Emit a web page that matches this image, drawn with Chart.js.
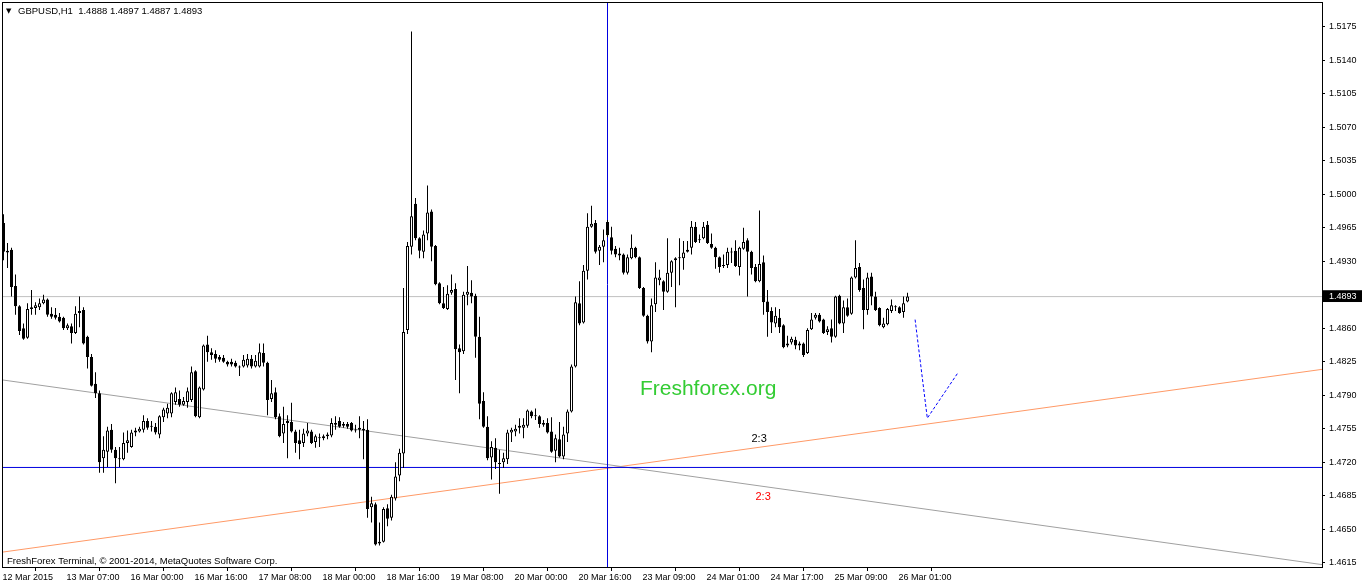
<!DOCTYPE html>
<html>
<head>
<meta charset="utf-8">
<script src="https://cdn.jsdelivr.net/npm/chart.js@4.4.0/dist/chart.umd.min.js"></script>
<style>
html,body{margin:0;padding:0;background:#fff;overflow:hidden}
#wrap{position:relative;width:1362px;height:586px;background:#fff}
canvas{display:block}
</style>
</head>
<body>
<div id="wrap"><canvas id="c" width="1362" height="586"></canvas></div>
<script>
const symbol = "GBPUSD,H1";
const opens = [
1.4970,1.4939,1.4942,1.4904,1.4883,1.4860,1.4850,1.4882,1.4881,1.4882,
1.4886,1.4890,1.4875,1.4874,1.4872,1.4871,1.4860,1.4862,1.4855,1.4876,
1.4879,1.4851,1.4830,1.4802,1.4792,1.4724,1.4731,1.4754,1.4733,1.4724,
1.4723,1.4740,1.4736,1.4751,1.4752,1.4754,1.4763,1.4758,1.4757,1.4749,
1.4767,1.4771,1.4771,1.4783,1.4786,1.4780,1.4783,1.4785,1.4815,1.4767,
1.4796,1.4843,1.4835,1.4833,1.4830,1.4829,1.4825,1.4825,1.4824,1.4820,
1.4820,1.4821,1.4828,1.4820,1.4820,1.4834,1.4824,1.4786,1.4793,1.4768,
1.4750,1.4761,1.4762,1.4752,1.4743,1.4740,1.4750,1.4752,1.4741,1.4745,
1.4745,1.4747,1.4748,1.4759,1.4763,1.4760,1.4760,1.4761,1.4754,1.4756,
1.4753,1.4754,1.4673,1.4676,1.4635,1.4637,1.4672,1.4662,1.4682,1.4706,
1.4729,1.4858,1.4945,1.4990,1.4954,1.4940,1.4959,1.4982,1.4946,1.4907,
1.4886,1.4880,1.4897,1.4901,1.4839,1.4836,1.4895,1.4897,1.4894,1.4851,
1.4784,1.4757,1.4725,1.4735,1.4719,1.4720,1.4723,1.4751,1.4752,1.4756,
1.4756,1.4758,1.4773,1.4769,1.4768,1.4761,1.4761,1.4752,1.4732,1.4744,
1.4726,1.4750,1.4773,1.4820,1.4886,1.4866,1.4920,1.4966,1.4970,1.4941,
1.4945,1.4971,1.4955,1.4943,1.4938,1.4937,1.4918,1.4933,1.4944,1.4934,
1.4902,1.4873,1.4846,1.4885,1.4910,1.4909,1.4898,1.4918,1.4931,1.4934,
1.4933,1.4940,1.4944,1.4966,1.4953,1.4954,1.4968,1.4948,1.4944,1.4934,
1.4926,1.4926,1.4939,1.4941,1.4924,1.4943,1.4952,1.4940,1.4924,1.4909,
1.4929,1.4888,1.4878,1.4865,1.4871,1.4863,1.4842,1.4845,1.4848,1.4844,
1.4844,1.4834,1.4859,1.4871,1.4874,1.4869,1.4856,1.4860,1.4851,1.4894,
1.4865,1.4882,1.4875,1.4913,1.4924,1.4902,1.4879,1.4914,1.4893,1.4881,
1.4861,1.4864,1.4878,1.4883,1.4882,1.4877,1.4888
];
const highs = [
1.4979,1.4949,1.4944,1.4916,1.4884,1.4865,1.4886,1.4900,1.4887,1.4891,
1.4895,1.4891,1.4882,1.4881,1.4876,1.4872,1.4865,1.4865,1.4883,1.4893,
1.4882,1.4852,1.4833,1.4814,1.4795,1.4747,1.4757,1.4760,1.4736,1.4736,
1.4751,1.4753,1.4754,1.4756,1.4757,1.4769,1.4766,1.4763,1.4761,1.4769,
1.4777,1.4781,1.4793,1.4798,1.4795,1.4788,1.4798,1.4820,1.4816,1.4799,
1.4843,1.4852,1.4839,1.4837,1.4832,1.4832,1.4826,1.4828,1.4826,1.4821,
1.4832,1.4833,1.4832,1.4832,1.4844,1.4844,1.4825,1.4806,1.4798,1.4771,
1.4778,1.4769,1.4782,1.4754,1.4754,1.4755,1.4761,1.4754,1.4749,1.4750,
1.4749,1.4751,1.4766,1.4768,1.4767,1.4762,1.4762,1.4762,1.4759,1.4768,
1.4763,1.4765,1.4684,1.4678,1.4657,1.4673,1.4676,1.4686,1.4720,1.4734,
1.4902,1.4950,1.5170,1.4996,1.4955,1.4962,1.5009,1.4984,1.4947,1.4908,
1.4903,1.4905,1.4916,1.4907,1.4843,1.4898,1.4925,1.4910,1.4896,1.4872,
1.4793,1.4768,1.4742,1.4745,1.4733,1.4730,1.4754,1.4756,1.4759,1.4766,
1.4766,1.4775,1.4774,1.4776,1.4769,1.4764,1.4766,1.4767,1.4749,1.4762,
1.4757,1.4775,1.4822,1.4893,1.4909,1.4926,1.4980,1.4988,1.4973,1.4947,
1.4963,1.4973,1.4966,1.4946,1.4944,1.4938,1.4937,1.4958,1.4945,1.4935,
1.4903,1.4874,1.4891,1.4929,1.4921,1.4910,1.4954,1.4931,1.4934,1.4954,
1.4951,1.4951,1.4972,1.4971,1.4958,1.4971,1.4972,1.4959,1.4945,1.4935,
1.4937,1.4944,1.4944,1.4952,1.4945,1.4965,1.4954,1.4941,1.4927,1.4983,
1.4936,1.4900,1.4882,1.4882,1.4880,1.4864,1.4852,1.4851,1.4851,1.4846,
1.4845,1.4860,1.4876,1.4876,1.4876,1.4870,1.4862,1.4869,1.4894,1.4895,
1.4889,1.4891,1.4914,1.4952,1.4928,1.4911,1.4918,1.4918,1.4898,1.4882,
1.4871,1.4881,1.4890,1.4884,1.4883,1.4893,1.4897
];
const lows = [
1.4931,1.4923,1.4893,1.4874,1.4853,1.4848,1.4849,1.4874,1.4874,1.4879,
1.4885,1.4872,1.4870,1.4869,1.4866,1.4858,1.4858,1.4844,1.4854,1.4861,
1.4843,1.4818,1.4799,1.4787,1.4709,1.4709,1.4715,1.4730,1.4698,1.4715,
1.4722,1.4730,1.4735,1.4747,1.4751,1.4751,1.4754,1.4752,1.4749,1.4745,
1.4762,1.4766,1.4767,1.4780,1.4778,1.4779,1.4777,1.4783,1.4767,1.4766,
1.4795,1.4825,1.4827,1.4824,1.4825,1.4824,1.4820,1.4820,1.4819,1.4810,
1.4819,1.4819,1.4818,1.4819,1.4819,1.4820,1.4769,1.4783,1.4765,1.4746,
1.4740,1.4724,1.4751,1.4730,1.4723,1.4736,1.4747,1.4739,1.4735,1.4736,
1.4743,1.4744,1.4746,1.4754,1.4756,1.4756,1.4755,1.4752,1.4751,1.4745,
1.4723,1.4662,1.4657,1.4633,1.4633,1.4636,1.4653,1.4659,1.4680,1.4700,
1.4714,1.4854,1.4937,1.4952,1.4933,1.4933,1.4952,1.4930,1.4905,1.4885,
1.4880,1.4879,1.4895,1.4806,1.4792,1.4833,1.4884,1.4886,1.4829,1.4765,
1.4756,1.4722,1.4702,1.4713,1.4687,1.4714,1.4718,1.4741,1.4747,1.4750,
1.4745,1.4756,1.4766,1.4764,1.4756,1.4757,1.4750,1.4730,1.4720,1.4725,
1.4723,1.4741,1.4772,1.4819,1.4863,1.4865,1.4911,1.4965,1.4938,1.4926,
1.4929,1.4955,1.4937,1.4934,1.4931,1.4916,1.4916,1.4932,1.4933,1.4901,
1.4872,1.4844,1.4835,1.4877,1.4905,1.4879,1.4897,1.4903,1.4882,1.4905,
1.4921,1.4939,1.4937,1.4949,1.4949,1.4953,1.4948,1.4943,1.4922,1.4918,
1.4923,1.4923,1.4928,1.4924,1.4915,1.4942,1.4893,1.4916,1.4908,1.4908,
1.4874,1.4851,1.4855,1.4861,1.4855,1.4839,1.4840,1.4843,1.4838,1.4837,
1.4830,1.4833,1.4858,1.4869,1.4866,1.4854,1.4853,1.4845,1.4850,1.4864,
1.4855,1.4872,1.4874,1.4912,1.4898,1.4859,1.4874,1.4884,1.4878,1.4862,
1.4860,1.4863,1.4876,1.4878,1.4875,1.4871,1.4887
];
const closes = [
1.4940,1.4941,1.4903,1.4883,1.4857,1.4849,1.4880,1.4880,1.4884,1.4886,
1.4890,1.4874,1.4872,1.4871,1.4867,1.4860,1.4863,1.4855,1.4875,1.4878,
1.4844,1.4830,1.4800,1.4792,1.4720,1.4733,1.4753,1.4733,1.4724,1.4723,
1.4740,1.4743,1.4751,1.4753,1.4755,1.4763,1.4756,1.4757,1.4751,1.4768,
1.4775,1.4777,1.4792,1.4793,1.4780,1.4784,1.4794,1.4814,1.4768,1.4798,
1.4842,1.4835,1.4832,1.4828,1.4827,1.4825,1.4822,1.4822,1.4820,1.4819,
1.4827,1.4828,1.4820,1.4826,1.4835,1.4824,1.4785,1.4792,1.4767,1.4747,
1.4760,1.4763,1.4752,1.4740,1.4739,1.4750,1.4753,1.4740,1.4747,1.4746,
1.4747,1.4749,1.4761,1.4761,1.4757,1.4758,1.4757,1.4753,1.4753,1.4754,
1.4755,1.4671,1.4677,1.4634,1.4637,1.4671,1.4661,1.4684,1.4705,1.4730,
1.4856,1.4946,1.4977,1.4954,1.4941,1.4958,1.4981,1.4945,1.4906,1.4886,
1.4881,1.4896,1.4900,1.4838,1.4835,1.4895,1.4898,1.4893,1.4851,1.4781,
1.4757,1.4724,1.4736,1.4720,1.4718,1.4724,1.4751,1.4754,1.4755,1.4758,
1.4759,1.4774,1.4768,1.4768,1.4760,1.4759,1.4751,1.4731,1.4745,1.4726,
1.4749,1.4773,1.4820,1.4887,1.4865,1.4920,1.4966,1.4969,1.4940,1.4945,
1.4952,1.4957,1.4941,1.4937,1.4936,1.4918,1.4934,1.4944,1.4934,1.4902,
1.4873,1.4846,1.4884,1.4913,1.4913,1.4898,1.4918,1.4930,1.4933,1.4933,
1.4939,1.4942,1.4966,1.4950,1.4952,1.4966,1.4949,1.4944,1.4934,1.4924,
1.4925,1.4940,1.4940,1.4925,1.4944,1.4950,1.4940,1.4923,1.4909,1.4927,
1.4887,1.4877,1.4866,1.4873,1.4861,1.4840,1.4844,1.4849,1.4842,1.4842,
1.4832,1.4858,1.4869,1.4874,1.4867,1.4855,1.4859,1.4851,1.4893,1.4865,
1.4882,1.4873,1.4913,1.4923,1.4900,1.4879,1.4913,1.4893,1.4879,1.4863,
1.4865,1.4880,1.4884,1.4882,1.4876,1.4886,1.4893
];
const xTickIndex = [0,16,32,48,64,80,96,112,128,144,160,176,192,208,224];
const xTickLabels = ["12 Mar 2015","13 Mar 07:00","16 Mar 00:00","16 Mar 16:00","17 Mar 08:00","18 Mar 00:00","18 Mar 16:00","19 Mar 08:00","20 Mar 00:00","20 Mar 16:00","23 Mar 09:00","24 Mar 01:00","24 Mar 17:00","25 Mar 09:00","26 Mar 01:00"];
const yTickValues = [1.4615,1.4650,1.4685,1.4720,1.4755,1.4790,1.4825,1.4860,1.4930,1.4965,1.5000,1.5035,1.5070,1.5105,1.5140,1.5175];
const grayTrend = [[-0.375,1.4806],[329.625,1.4613]];
const orangeTrend = [[-0.375,1.4626],[329.625,1.4817]];
const blueLevel = 1.47145;
const blueTimeIndex = 151;
const forecastPath = [[227.9,1.4869],[230.95,1.4766],[238.7,1.4814]];
const xMin = -0.375, xMax = 329.625, yMin = 1.461051, yMax = 1.520081;

const last = closes.length - 1;
const lastClose = closes[last];
const FONT = "'Liberation Sans', Arial, sans-serif";

const wicks = lows.map((l, i) => ({x: i, y: [l, highs[i]]}));
const bodies = opens.map((o, i) => ({x: i, y: [o, closes[i]]}));
const toPts = arr => arr.map(p => ({x: p[0], y: p[1]}));

const lineDs = (data, color, order, dash) => ({
  type: 'line', data, borderColor: color, borderWidth: 1, pointRadius: 0,
  borderDash: dash || [], tension: 0, fill: false, order
});

const overlay = {
  id: 'overlay',
  afterDraw(chart) {
    const {ctx, chartArea: a, scales: {x, y}} = chart;
    ctx.save();
    ctx.strokeStyle = '#000'; ctx.lineWidth = 1;
    ctx.strokeRect(a.left + 0.5, a.top + 0.5, a.right - a.left, a.bottom - a.top);
    ctx.fillStyle = '#000';
    ctx.textBaseline = 'middle'; ctx.textAlign = 'left';
    ctx.font = "7px 'DejaVu Sans', sans-serif";
    ctx.fillText('\u25BC', 6, 11);
    ctx.font = '9.5px ' + FONT;
    const vals = [opens[last], highs[last], lows[last], closes[last]].map(v => v.toFixed(4)).join(' ');
    ctx.fillText(symbol + '  ' + vals, 18, 11);
    ctx.fillText('FreshForex Terminal, \u00A9 2001-2014, MetaQuotes Software Corp.', 7, 561);
    ctx.textBaseline = 'alphabetic';
    ctx.font = '21px ' + FONT;
    ctx.fillStyle = '#33cc33';
    ctx.fillText('Freshforex.org', x.getPixelForValue(159.1), y.getPixelForValue(1.4790));
    ctx.font = '11px ' + FONT;
    ctx.textAlign = 'center';
    ctx.fillStyle = '#000';
    ctx.fillText('2:3', x.getPixelForValue(188.9), y.getPixelForValue(1.4741));
    ctx.fillStyle = '#ff0000';
    ctx.fillText('2:3', x.getPixelForValue(189.9), y.getPixelForValue(1.4680));
    ctx.restore();
  }
};

const zeroPad = s => { s.paddingTop = 0; s.paddingBottom = 0; s.paddingLeft = 0; s.paddingRight = 0; };

new Chart(document.getElementById('c'), {
  type: 'bar',
  data: {
    datasets: [
      {label: 'bodies', data: bodies, barThickness: 3, grouped: false, order: 0,
       backgroundColor: c => (c.raw && c.raw.y[1] >= c.raw.y[0]) ? '#ffffff' : '#000000',
       borderColor: '#000', borderWidth: 1, borderSkipped: false, minBarLength: 1, inflateAmount: 0},
      {label: 'wicks', data: wicks, barThickness: 1, grouped: false, order: 1,
       backgroundColor: '#000', borderWidth: 0, inflateAmount: 0},
      lineDs([{x: xMin, y: lastClose}, {x: xMax, y: lastClose}], '#c0c0c0', 5),
      lineDs(toPts(grayTrend), '#a0a0a0', 4),
      lineDs(toPts(orangeTrend), '#ff9966', 4),
      lineDs([{x: xMin, y: blueLevel}, {x: xMax, y: blueLevel}], '#0000e0', 3),
      lineDs([{x: blueTimeIndex, y: yMin}, {x: blueTimeIndex, y: yMax}], '#0000e0', 3),
      lineDs(toPts(forecastPath), '#0000ff', 2, [3, 2])
    ]
  },
  options: {
    responsive: false, animation: false, devicePixelRatio: 1,
    layout: {padding: {left: 2, top: 2, right: 0, bottom: 0}},
    plugins: {legend: {display: false}, tooltip: {enabled: false}, title: {display: false}},
    scales: {
      x: {
        type: 'linear', min: xMin, max: xMax, offset: false, position: 'bottom',
        grid: {drawOnChartArea: false, drawTicks: true, tickLength: 4, tickColor: '#000', color: '#000'},
        border: {display: false},
        ticks: {autoSkip: false, maxRotation: 0, minRotation: 0, align: 'start', labelOffset: -1, padding: 1,
                color: '#000', font: {family: FONT, size: 9},
                callback: (v, i) => xTickLabels[i]},
        afterBuildTicks: s => { s.ticks = xTickIndex.map(v => ({value: v})); },
        afterFit: s => { s.height = 19; zeroPad(s); }
      },
      y: {
        type: 'linear', position: 'right', min: yMin, max: yMax,
        grid: {drawOnChartArea: false, drawTicks: true, tickLength: 3, tickColor: '#000', color: '#000'},
        border: {display: false},
        ticks: {autoSkip: false, padding: 4, crossAlign: 'near', font: {family: FONT, size: 9},
                color: c => (c.tick && c.tick.value === lastClose) ? '#ffffff' : '#000000',
                showLabelBackdrop: c => !!(c.tick && c.tick.value === lastClose),
                backdropColor: '#000', backdropPadding: {left: 6, right: 10, top: 1, bottom: 0},
                callback: v => v.toFixed(4)},
        afterBuildTicks: s => { s.ticks = yTickValues.concat([lastClose]).sort((a, b) => a - b).map(v => ({value: v})); },
        afterFit: s => { s.width = 40; zeroPad(s); }
      }
    }
  },
  plugins: [overlay]
});
</script>
</body>
</html>
